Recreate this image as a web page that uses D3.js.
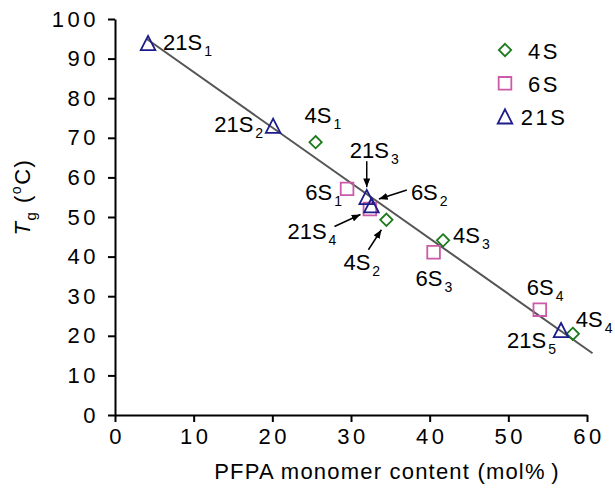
<!DOCTYPE html>
<html>
<head>
<meta charset="utf-8">
<script src="https://cdn.jsdelivr.net/npm/d3@7"></script>
<style>
  body { margin: 0; background: #fff; }
  svg { display: block; font-family: "Liberation Sans", Arial, sans-serif; }
</style>
</head>
<body>
<svg id="chart" width="615" height="488"></svg>
<script>
// data
const seriesNames = ['4S', '6S', '21S'];
const x4S = [25.5, 34.5, 41.7, 58.2];
const y4S = [68.9, 49.3, 44.1, 20.5];
const x6S = [29.5, 32.4, 40.5, 54.0];
const y6S = [57.1, 52.0, 41.1, 26.6];
const x21S = [4.2, 20.1, 32.0, 32.6, 56.7];
const y21S = [93.9, 73.0, 55.0, 52.9, 21.4];
const fitX = [4.0, 60.7];
const fitY = [95.0, 15.6];
const xTicks = [0, 10, 20, 30, 40, 50, 60];
const yTicks = [0, 10, 20, 30, 40, 50, 60, 70, 80, 90, 100];

const colors = { '4S': '#1b7a1b', '6S': '#cc5aa8', '21S': '#1c1c8a' };

const svg = d3.select('#chart');
const width = +svg.attr('width');
const height = +svg.attr('height');
const margin = { left: 115, right: 28, top: 19, bottom: 73 };

const x = d3.scaleLinear().domain([0, 60]).range([margin.left, width - margin.right]);
const y = d3.scaleLinear().domain([0, 100]).range([height - margin.bottom, margin.top]);

const points = {
    '4S': x4S.map((v, i) => ({ x: v, y: y4S[i] })),
    '6S': x6S.map((v, i) => ({ x: v, y: y6S[i] })),
    '21S': x21S.map((v, i) => ({ x: v, y: y21S[i] }))
};

// marker shapes, centred on their bounding box
const diamond = { draw(ctx, size) { const r = Math.sqrt(size); ctx.moveTo(0, -r); ctx.lineTo(r, 0); ctx.lineTo(0, r); ctx.lineTo(-r, 0); ctx.closePath(); } };
const square = { draw(ctx, size) { const r = Math.sqrt(size); ctx.rect(-r, -r, 2 * r, 2 * r); } };
const triangle = { draw(ctx, size) { const r = Math.sqrt(size); ctx.moveTo(0, -r); ctx.lineTo(r, r * 0.95); ctx.lineTo(-r, r * 0.95); ctx.closePath(); } };
const shapes = {
    '4S': d3.symbol(diamond, 38),
    '6S': d3.symbol(square, 40),
    '21S': d3.symbol(triangle, 53)
};

// axes
const xAxis = svg.append('g')
    .attr('transform', `translate(0,${y(0)})`)
    .call(d3.axisBottom(x).tickValues(xTicks).tickSize(7).tickSizeOuter(0).tickPadding(6));
const yAxis = svg.append('g')
    .attr('transform', `translate(${x(0)},0)`)
    .call(d3.axisLeft(y).tickValues(yTicks).tickSize(7).tickSizeOuter(0).tickPadding(9));

[xAxis, yAxis].forEach(g => {
    g.select('.domain').attr('stroke', '#000').attr('stroke-width', 2);
    g.selectAll('.tick line').attr('stroke', '#000').attr('stroke-width', 2);
    g.selectAll('.tick text')
        .attr('fill', '#000')
        .style('font-family', '"Liberation Sans", Arial, sans-serif')
        .style('font-size', '22px')
        .style('letter-spacing', '3.5px');
});
xAxis.selectAll('.tick text').attr('dx', '1.5px');

// axis titles
svg.append('text')
    .attr('x', 387)
    .attr('y', 479)
    .attr('text-anchor', 'middle')
    .style('font-size', '22px')
    .style('letter-spacing', '1.2px')
    .text('PFPA monomer content (mol%\u2009)');

const yTitle = svg.append('text')
    .attr('transform', 'translate(30,197) rotate(-90)')
    .attr('text-anchor', 'middle')
    .style('font-size', '22px')
    .style('letter-spacing', '1.5px');
yTitle.append('tspan').style('font-style', 'italic').text('T');
yTitle.append('tspan').attr('dy', 6).style('font-size', '15px').text('g');
yTitle.append('tspan').attr('dy', -6).text(' (');
yTitle.append('tspan').attr('dy', -9).style('font-size', '14px').text('o');
yTitle.append('tspan').attr('dy', 9).text('C)');

// fit line
svg.append('line')
    .attr('x1', x(fitX[0])).attr('y1', y(fitY[0]))
    .attr('x2', x(fitX[1])).attr('y2', y(fitY[1]))
    .attr('stroke', '#555')
    .attr('stroke-width', 2);

// points
seriesNames.forEach(s => {
    svg.append('g').selectAll('path')
        .data(points[s])
        .enter()
        .append('path')
        .attr('d', shapes[s])
        .attr('transform', d => `translate(${x(d.x)},${y(d.y)})`)
        .attr('fill', 'none')
        .attr('stroke', colors[s])
        .attr('stroke-width', 1.8);
});

// point labels (pixel offsets from the point)
const labels = [
    { s: '21S', i: 0, name: '21S', sub: '1', dx: 15, dy: 7, anchor: 'start' },
    { s: '21S', i: 1, name: '21S', sub: '2', dx: -10, dy: 6, anchor: 'end' },
    { s: '4S', i: 0, name: '4S', sub: '1', dx: -11, dy: -19, anchor: 'start' },
    { s: '6S', i: 0, name: '6S', sub: '1', dx: -5, dy: 11, anchor: 'end' },
    { s: '21S', i: 2, name: '21S', sub: '3', dx: -17, dy: -39, anchor: 'start' },
    { s: '6S', i: 1, name: '6S', sub: '2', dx: 41, dy: -9, anchor: 'start' },
    { s: '21S', i: 3, name: '21S', sub: '4', dx: -84, dy: 33, anchor: 'start' },
    { s: '4S', i: 1, name: '4S', sub: '2', dx: -43, dy: 50, anchor: 'start' },
    { s: '4S', i: 2, name: '4S', sub: '3', dx: 10, dy: 3, anchor: 'start' },
    { s: '6S', i: 2, name: '6S', sub: '3', dx: -18, dy: 34, anchor: 'start' },
    { s: '6S', i: 3, name: '6S', sub: '4', dx: -13, dy: -15, anchor: 'start' },
    { s: '4S', i: 3, name: '4S', sub: '4', dx: 3, dy: -7, anchor: 'start' },
    { s: '21S', i: 4, name: '21S', sub: '5', dx: -5, dy: 18, anchor: 'end' }
];

const labelG = svg.append('g').style('font-size', '22px');
labels.forEach(l => {
    const p = points[l.s][l.i];
    const t = labelG.append('text')
        .attr('x', x(p.x) + l.dx)
        .attr('y', y(p.y) + l.dy)
        .attr('text-anchor', l.anchor);
    t.append('tspan').text(l.name);
    t.append('tspan').attr('dx', 2).attr('dy', 6).style('font-size', '14px').text(l.sub);
});

// arrows
svg.append('defs').append('marker')
    .attr('id', 'head')
    .attr('viewBox', '0 0 10 8')
    .attr('refX', 10).attr('refY', 4)
    .attr('markerWidth', 9).attr('markerHeight', 7)
    .attr('markerUnits', 'userSpaceOnUse')
    .attr('orient', 'auto')
    .append('path')
    .attr('d', 'M0,0 L10,4 L0,8 Z')
    .attr('fill', '#000');

const arrows = [
    { s: '21S', i: 2, from: [0, -36], to: [0, -10] },
    { s: '6S', i: 1, from: [37, -19], to: [9, -10] },
    { s: '21S', i: 3, from: [-37, 21], to: [-11, 9] },
    { s: '4S', i: 1, from: [-18, 30], to: [-5, 10] }
];
arrows.forEach(a => {
    const p = points[a.s][a.i];
    svg.append('line')
        .attr('x1', x(p.x) + a.from[0]).attr('y1', y(p.y) + a.from[1])
        .attr('x2', x(p.x) + a.to[0]).attr('y2', y(p.y) + a.to[1])
        .attr('stroke', '#000')
        .attr('stroke-width', 1.5)
        .attr('marker-end', 'url(#head)');
});

// legend
const legend = svg.append('g').attr('transform', 'translate(505,50)');
seriesNames.forEach((s, i) => {
    const row = legend.append('g').attr('transform', `translate(0,${i * 33.3})`);
    row.append('path')
        .attr('d', shapes[s])
        .attr('fill', 'none')
        .attr('stroke', colors[s])
        .attr('stroke-width', 1.8);
    row.append('text')
        .attr('x', 39)
        .attr('y', 8.5)
        .attr('text-anchor', 'middle')
        .style('font-size', '22px')
        .style('letter-spacing', '2.5px')
        .text(s);
});
</script>
</body>
</html>
